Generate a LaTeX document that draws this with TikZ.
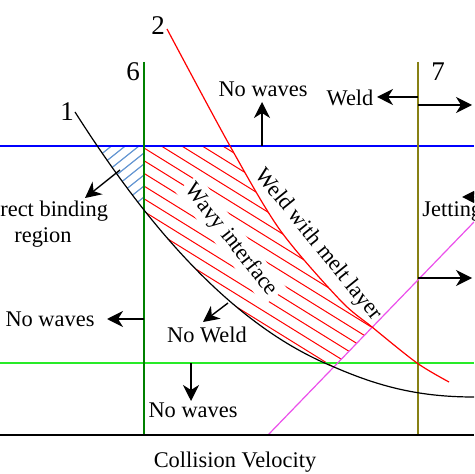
\documentclass[tikz,border=0pt]{standalone}
\usepackage{fontspec}
\setmainfont{Liberation Serif}
\usetikzlibrary{arrows.meta,positioning}
\definecolor{sixgreen}{RGB}{0,128,0}
\definecolor{sevenolive}{RGB}{135,128,20}
\definecolor{limeline}{RGB}{40,235,40}
\definecolor{jetmagenta}{RGB}{235,80,235}
\definecolor{hatchblue}{RGB}{100,150,210}
\tikzset{>={Stealth[length=8pt,width=8pt,inset=2.5pt]}}
\tikzset{
  lbl/.style={font=\fontsize{11.2}{12.7}\selectfont, inner sep=1pt},
  num/.style={font=\fontsize{13.5}{15}\selectfont, inner sep=0pt},
  arr/.style={->, line width=0.7pt, black},
  hred/.style={red, line width=0.5pt},
  hblue/.style={hatchblue, line width=0.6pt},
  thinline/.style={line width=0.6pt}
}
\newcommand{\curveone}{(75,112) .. controls (145,222) and (230,325) .. (334,367) .. controls (380,387) and (420,397) .. (474,397)}
\newcommand{\curvetwo}{plot[smooth] coordinates {(167,29) (230,146) (280,230) (340,300) (372,327) (417,363) (449,382)}}

\begin{document}
\begin{tikzpicture}[x=0.5pt,y=-0.5pt]
\useasboundingbox (0,0) rectangle (474,474);
\clip (0,0) rectangle (474,474);

\begin{scope}
  \clip \curveone -- (474,0) -- (75,0) -- cycle;
  \clip (0,146) rectangle (474,435);
  \begin{scope}
    \clip (0,146) rectangle (144,435);
    \foreach \k in {-5,...,7}
      \draw[hblue] (144,153+11*\k) -- ++(-80,64);
  \end{scope}
  \begin{scope}
    \clip (144,0) rectangle (474,474);
    \clip \curvetwo -- (449,474) -- (0,474) -- (0,0) -- (167,0) -- cycle;
    \clip (0,0) -- (688,0) -- (268,435) -- (0,435) -- cycle;
    \foreach \k in {-6,...,9}
      \draw[hred] (100,148+12.7*\k-27.3) -- ++(400,248);
  \end{scope}
\end{scope}

\draw[blue, line width=0.7pt] (0,146) -- (474,146);
\draw[limeline, line width=1pt] (0,363) -- (474,363);
\draw[sixgreen, thinline] (144,62) -- (144,435);
\draw[sevenolive, thinline] (418,62) -- (418,435);
\draw[jetmagenta, thinline] (268,435) -- (474,222);
\draw[black, thinline] \curveone;
\draw[red, thinline] \curvetwo;
\draw[black, line width=0.8pt] (0,435) -- (474,435);

\node[num] (one) at (67,112) {1};
\node[num] (two) at (158,26) {2};
\node[num] (six) at (133,72) {6};
\node[num] (seven) at (438,72) {7};

\node[lbl, fill=white, rotate=-52, inner sep=2pt] (wavy) at (231,240) {Wavy interface};
\node[lbl, rotate=-51] (melt) at (318,245) {Weld with melt layer};

\node[lbl] (nwtoplbl) at (263,89) {No waves};
\coordinate (nwtop) at (262,146);
\coordinate (nwtoptip) at (262,102);
\draw[arr] (nwtop) -- (nwtoptip);

\node[lbl] (weldlbl) at (350,98) {Weld};
\coordinate (weldl) at (418,97);
\coordinate (weldltip) at (377,97);
\draw[arr] (weldl) -- (weldltip);
\coordinate (weldr) at (418,105);
\coordinate (weldrtip) at (472,105);
\draw[arr] (weldr) -- (weldrtip);

\node[lbl, anchor=west] (jetlbl) at (420,212) {Jetting};
\coordinate (jetl) at (490,197);
\coordinate (jetltip) at (462,197);
\draw[arr] (jetl) -- (jetltip);
\coordinate (jetr) at (418,278);
\coordinate (jetrtip) at (472,278);
\draw[arr] (jetr) -- (jetrtip);

\node[lbl, align=center] (dirlbl) at (43,224) {Direct binding\\region};
\coordinate (dir) at (120,170);
\coordinate (dirtip) at (85,198);
\draw[arr] (dir) -- (dirtip);

\node[lbl] (nwleftlbl) at (50,319) {No waves};
\coordinate (nwleft) at (144,319);
\coordinate (nwlefttip) at (107,319);
\draw[arr] (nwleft) -- (nwlefttip);

\node[lbl] (noweldlbl) at (207,335) {No Weld};
\coordinate (noweld) at (228,303);
\coordinate (noweldtip) at (203,322);
\draw[arr] (noweld) -- (noweldtip);

\node[lbl] (nwbotlbl) at (193,410) {No waves};
\coordinate (nwbot) at (191,363);
\coordinate (nwbottip) at (191,401);
\draw[arr] (nwbot) -- (nwbottip);

\node[lbl] (axislbl) at (235,462) {Collision Velocity};
\end{tikzpicture}
\end{document}
